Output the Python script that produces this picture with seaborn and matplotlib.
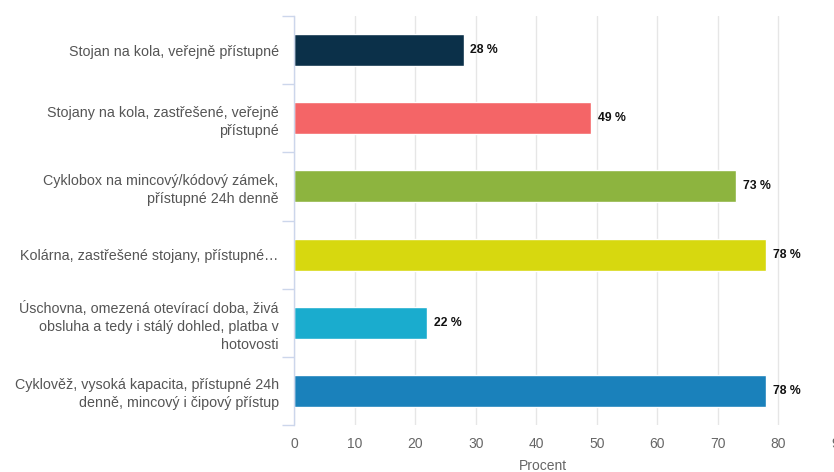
import matplotlib
matplotlib.use("Agg")
import matplotlib.pyplot as plt
import seaborn as sns
import pandas as pd
import numpy as np

# data
categories = [
    "Stojan na kola, veřejně přístupné",
    "Stojany na kola, zastřešené, veřejně\npřístupné",
    "Cyklobox na mincový/kódový zámek,\npřístupné 24h denně",
    "Kolárna, zastřešené stojany, přístupné…",
    "Úschovna, omezená otevírací doba, živá\nobsluha a tedy i stálý dohled, platba v\nhotovosti",
    "Cyklověž, vysoká kapacita, přístupné 24h\ndenně, mincový i čipový přístup",
]
values = [28, 49, 73, 78, 22, 78]
colors = ["#0b3049", "#f46567", "#8db43f", "#d7d80f", "#1aacce", "#1a81bb"]
xticks = [0, 10, 20, 30, 40, 50, 60, 70, 80, 90]

df = pd.DataFrame({"kategorie": categories, "procent": values})

sns.set_style("white")
plt.rcParams["font.family"] = ["Liberation Sans", "DejaVu Sans"]

fig = plt.figure(figsize=(8.34, 4.72), dpi=100)
ax = fig.add_axes([294 / 834, 1 - 425 / 472, 545 / 834, 409 / 472])

sns.barplot(data=df, y="kategorie", x="procent", hue="kategorie",
            palette=colors, orient="h", legend=False, width=0.47,
            saturation=1, ax=ax)

# value labels next to the bars
for c, v in zip(ax.containers, values):
    ax.bar_label(c, labels=[f"{v} %"], padding=5, fontsize=8.8,
                 fontweight="bold", color="#111111")

ax.set_xlim(0, 90)
ax.set_ylim(len(categories) - 0.5, -0.5)
ax.set_xticks(xticks)
ax.tick_params(axis="x", length=0, pad=9, labelsize=10, labelcolor="#666666")
ax.tick_params(axis="y", which="major", left=False, length=0, pad=11,
               labelsize=10.3, labelcolor="#555555")
for lab in ax.get_yticklabels():
    lab.set_multialignment("right")
    lab.set_linespacing(1.35)

# category boundary ticks on the left axis line
ax.set_yticks(np.arange(-0.5, len(categories) + 0.5, 1), minor=True)
ax.tick_params(axis="y", which="minor", left=True, length=9, width=1,
               color="#ccd6eb")
ax.grid(axis="x", color="#e6e6e6", linewidth=1)
ax.set_axisbelow(True)

for s in ["top", "right", "bottom"]:
    ax.spines[s].set_visible(False)
ax.spines["left"].set_color("#ccd6eb")
ax.spines["left"].set_linewidth(1)

ax.set_ylabel("")
ax.set_xlabel("Procent", fontsize=10, color="#666666")
ax.xaxis.set_label_coords((543 - 294) / 545, -41 / 409)
ax.xaxis.label.set_va("center")

fig.savefig("out.png", dpi=100)
